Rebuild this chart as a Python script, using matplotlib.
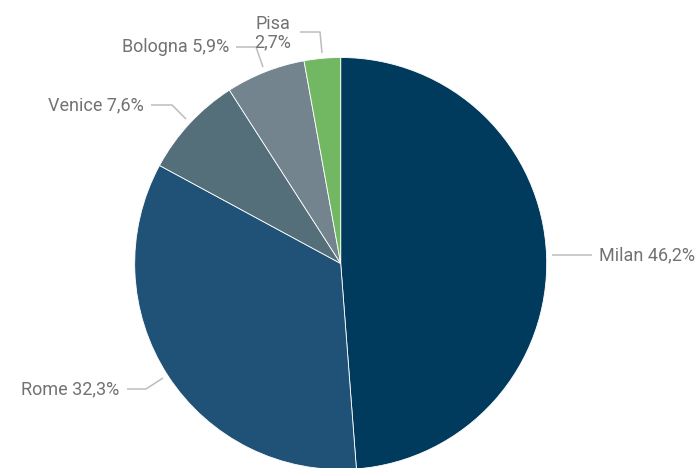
import matplotlib
matplotlib.use("Agg")
import matplotlib.pyplot as plt

cities = ["Milan", "Rome", "Venice", "Bologna", "Pisa"]
shares = [46.2, 32.3, 7.6, 5.9, 2.7]
colors = ["#003A5C", "#1F5276", "#546E7A", "#73848F", "#72B862"]

W, H = 697, 468
fig = plt.figure(figsize=(W / 100, H / 100), dpi=100)
ax = fig.add_axes([0, 0, 1, 1])

cx, cy, r = 340.7, 263.5, 206
# y axis is inverted (pixel coords), so counterclockwise in data = clockwise on screen
ax.pie(shares, colors=colors, startangle=-90, counterclock=True,
       center=(cx, cy), radius=r, frame=True,
       wedgeprops=dict(linewidth=0.6, edgecolor="white"))
ax.set_xlim(0, W)
ax.set_ylim(H, 0)
ax.set_aspect("equal")
ax.axis("off")

txt_color = "#727272"
line_color = "#BDBDBD"
fs = 13
font = "Roboto"

layout = {
    "Milan":   dict(line=[(552, 255), (592, 255)], text=(599, 255), ha="left"),
    "Rome":    dict(line=[(163, 378), (146, 389), (127, 389)], text=(119, 389), ha="right"),
    "Venice":  dict(line=[(186, 119), (172, 105), (151, 105)], text=(144, 105), ha="right"),
    "Bologna": dict(line=[(263, 67), (256, 47), (236, 47)], text=(229, 47), ha="right"),
    "Pisa":    dict(line=[(322, 53), (320, 32), (300, 32)], text=(273, 33), ha="center"),
}

for city, val in zip(cities, shares):
    L = layout[city]
    xs, ys = zip(*L["line"])
    ax.plot(xs, ys, color=line_color, lw=1.1, solid_capstyle="butt")
    pct = f"{val:.1f}%".replace(".", ",")
    s = f"{city}\n{pct}" if city == "Pisa" else f"{city} {pct}"
    ax.text(*L["text"], s, ha=L["ha"], va="center", fontsize=fs, color=txt_color,
            family=font, linespacing=1.0)

fig.savefig("out.png", dpi=100)
